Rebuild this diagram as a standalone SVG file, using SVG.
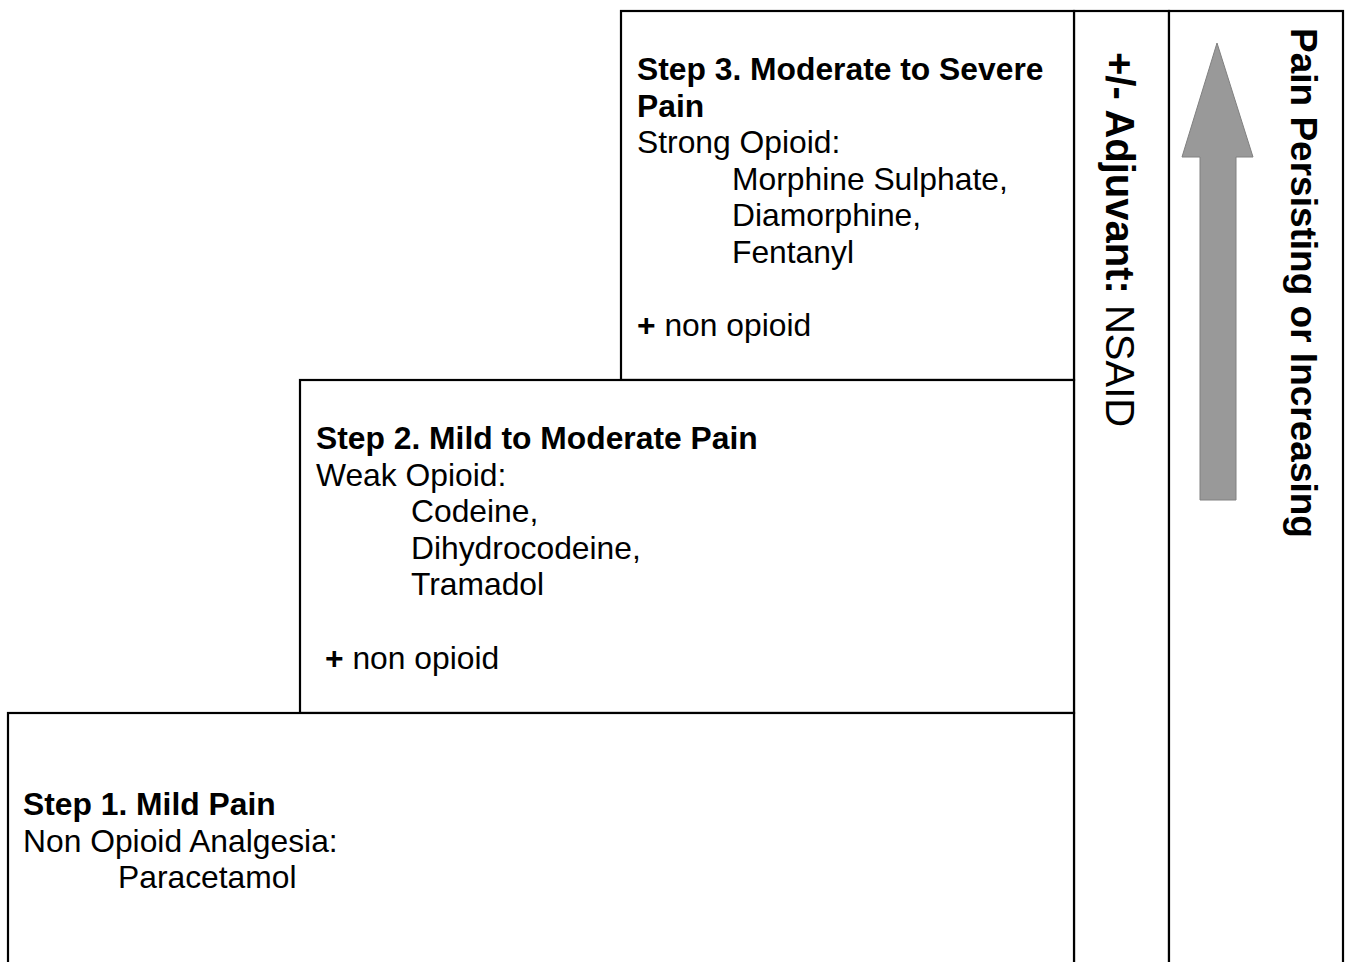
<svg xmlns="http://www.w3.org/2000/svg" width="1345" height="962" viewBox="0 0 1345 962">
<style>
.box{fill:#fff;stroke:#000;stroke-width:2.2}
.t{font-family:"Liberation Sans",Arial,sans-serif;font-size:31.8px;fill:#000}
.b{font-weight:bold}
.v{font-family:"Liberation Sans",Arial,sans-serif;fill:#000}
</style>
<rect width="1345" height="962" fill="#fff"/>
<g id="col-adjuvant">
<rect class="box" x="1074" y="11" width="95" height="970"/>
<text class="v" transform="translate(1106,52) rotate(90)" font-size="40"><tspan font-weight="bold">+/- Adjuvant: </tspan>NSAID</text>
</g>
<g id="col-pain">
<rect class="box" x="1169" y="11" width="174" height="970"/>
<text class="v b" transform="translate(1291,28) rotate(90)" font-size="37" font-weight="bold">Pain Persisting or Increasing</text>
</g>
<g id="connectors">
<polygon points="1217,43 1253,157 1236,157 1236,500 1200,500 1200,157 1182,157" fill="#999999" stroke="#808080" stroke-width="1"/>
</g>
<g id="step3">
<rect class="box" x="621" y="11" width="453" height="369"/>
<text class="t b" x="637" y="80">Step 3. Moderate to Severe</text>
<text class="t b" x="637" y="116.6">Pain</text>
<text class="t" x="637" y="153.2">Strong Opioid:</text>
<text class="t" x="732" y="189.8">Morphine Sulphate,</text>
<text class="t" x="732" y="226.4">Diamorphine,</text>
<text class="t" x="732" y="263">Fentanyl</text>
<text class="t" x="637" y="336"><tspan class="b">+</tspan> non opioid</text>
</g>
<g id="step2">
<rect class="box" x="300" y="380" width="774" height="333"/>
<text class="t b" x="316" y="449">Step 2. Mild to Moderate Pain</text>
<text class="t" x="316" y="485.6">Weak Opioid:</text>
<text class="t" x="411" y="522.2">Codeine,</text>
<text class="t" x="411" y="558.8">Dihydrocodeine,</text>
<text class="t" x="411" y="595.4">Tramadol</text>
<text class="t" x="325" y="668.6"><tspan class="b">+</tspan> non opioid</text>
</g>
<g id="step1">
<rect class="box" x="8" y="713" width="1066" height="270"/>
<text class="t b" x="23" y="815">Step 1. Mild Pain</text>
<text class="t" x="23" y="851.6">Non Opioid Analgesia:</text>
<text class="t" x="118" y="888.2">Paracetamol</text>
</g>
</svg>
